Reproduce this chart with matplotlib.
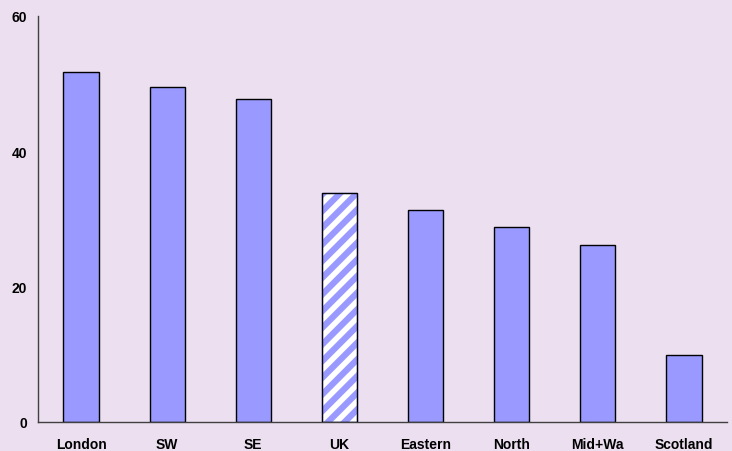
import matplotlib.pyplot as plt
import numpy as np

plt.rcParams["font.family"] = ["Liberation Sans", "DejaVu Sans"]
plt.rcParams["hatch.linewidth"] = 4.5

regions = ["London", "SW", "SE", "UK", "Eastern", "North", "Mid+Wa", "Scotland"]
values = [51.7, 49.5, 47.7, 33.8, 31.3, 28.8, 26.1, 9.9]
hatched = ["UK"]

bg = "#ecdff0"
blue = "#9999ff"

fig = plt.figure(figsize=(7.32, 4.52), dpi=100, facecolor=bg)
ax = fig.add_axes([38 / 732, 29 / 452, 689 / 732, 406 / 452], facecolor=bg)

x = np.arange(len(regions))
for i, (name, v) in enumerate(zip(regions, values)):
    if name in hatched:
        plt.rcParams["hatch.color"] = blue
        ax.bar(i, v, width=0.41, color="white", hatch="//", edgecolor=blue, zorder=2)
        ax.bar(i, v, width=0.41, color="none", edgecolor="black", linewidth=1, zorder=3)
    else:
        ax.bar(i, v, width=0.41, color=blue, edgecolor="black", linewidth=1, zorder=2)

ax.set_xlim(-0.5, len(regions) - 0.5)
ax.set_ylim(0, 60)
ax.set_yticks([0, 20, 40, 60])
ax.set_xticks(x)
ax.set_xticklabels(regions, fontsize=10, fontweight="bold")
for lab in ax.get_yticklabels():
    lab.set_fontsize(10)
    lab.set_fontweight("bold")
ax.tick_params(axis="both", length=0)
ax.tick_params(axis="x", pad=11)
ax.tick_params(axis="y", pad=8)

for s in ["top", "right"]:
    ax.spines[s].set_visible(False)
for s in ["left", "bottom"]:
    ax.spines[s].set_color("#404040")
    ax.spines[s].set_linewidth(1)

fig.savefig("out.png", dpi=100, facecolor=bg)
